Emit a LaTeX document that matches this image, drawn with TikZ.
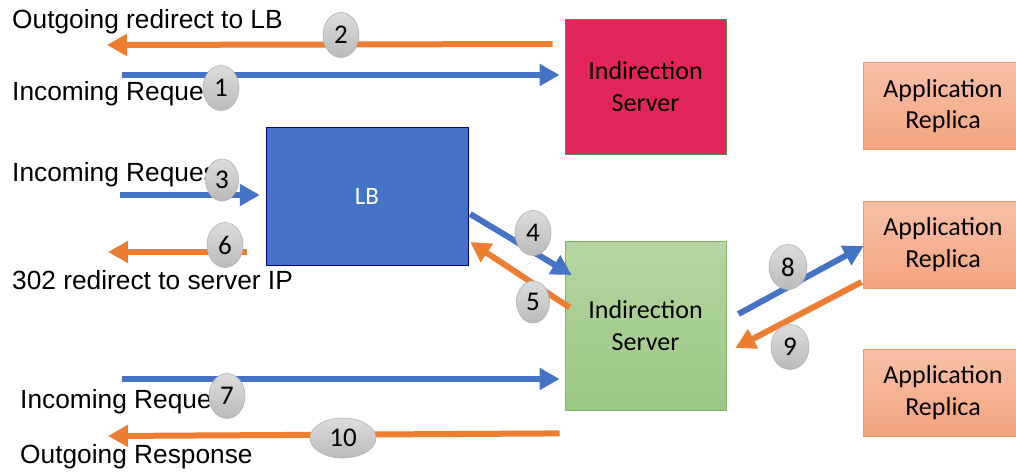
\documentclass[tikz,border=0pt]{standalone}
\usepackage{fontspec}
\setmainfont{Liberation Sans}
\newfontfamily\boxfont{Carlito}
\usetikzlibrary{arrows.meta,calc,positioning,shapes.geometric}

\definecolor{reqblue}{HTML}{4472C4}
\definecolor{resporange}{HTML}{ED7D31}
\definecolor{indred}{HTML}{E3265A}
\definecolor{lbblue}{HTML}{4472C4}
\definecolor{greentop}{HTML}{B5D6A3}
\definecolor{greenbot}{HTML}{9BC883}
\definecolor{greenline}{HTML}{82B466}
\definecolor{reptop}{HTML}{F7C0A8}
\definecolor{repbot}{HTML}{F4A47F}
\definecolor{repline}{HTML}{F09A6A}
\definecolor{numtop}{HTML}{DCDCDC}
\definecolor{numbot}{HTML}{BABABA}

\begin{document}
\begin{tikzpicture}[x=1pt,y=-1pt,>={Triangle[length=20pt,width=21pt]},
	server/.style={draw=black!35!green!40!gray,line width=0.8pt,minimum width=161pt,align=center,inner sep=0pt,font=\boxfont\fontsize{26}{31.5}\selectfont},
	replica/.style={draw=repline,line width=0.8pt,top color=reptop,bottom color=repbot,minimum width=160pt,minimum height=87pt,align=center,inner sep=0pt,font=\boxfont\fontsize{26}{31.5}\selectfont},
	step num/.style={ellipse,draw=gray!60,line width=0.6pt,top color=numtop,bottom color=numbot,minimum width=36pt,minimum height=45pt,inner sep=0pt,font=\boxfont\fontsize{27}{27}\selectfont},
	req/.style={->,draw=reqblue,line width=6pt},
	resp/.style={->,draw=resporange,line width=6pt},
	lbl/.style={anchor=base west,inner sep=0pt,font=\fontsize{26.3}{30}\selectfont}]
	\useasboundingbox (0,0) rectangle (1016,472);

	% boxes
	\node[server,fill=indred,minimum height=135pt] (ind1) at (645.5,86.5) {Indirection\\Server};
	\node[server,draw=greenline,top color=greentop,bottom color=greenbot,minimum height=169pt] (ind2) at (645.5,325.5) {Indirection\\Server};
	\node[draw=blue!50!black,fill=lbblue,minimum width=202pt,minimum height=138pt,text=white,font=\boxfont\fontsize{25}{25}\selectfont] (lb) at (367,196) {LB};
	\node[replica] (rep1) at (943,106) {Application\\Replica};
	\node[replica] (rep2) at (943,244.5) {Application\\Replica};
	\node[replica] (rep3) at (943,392.5) {Application\\Replica};

	% texts on the left
	\node[lbl] (t2) at (12,28) {Outgoing redirect to LB};
	\node[lbl] (t1) at (12,100) {Incoming Reque};
	\node[lbl] (t3) at (12,181) {Incoming Reques};
	\node[lbl] (t6) at (12,289) {302 redirect to server IP};
	\node[lbl] (t7) at (20,408) {Incoming Reque};
	\node[lbl] (t10) at (20,463) {Outgoing Response};

	% free ends
	\coordinate (in1) at (122,75);
	\coordinate (out2) at (107,45);
	\coordinate (in3) at (120,195);
	\coordinate (out6) at (108,252);
	\coordinate (in7) at (122,379);
	\coordinate (out10) at (108,436);

	% arrows
	\draw[req] (in1) -- ($(in1 -| ind1.west)+(-5,0)$);
	\draw[resp] ($(out2 -| ind1.west)+(-12,-1)$) -- (out2);
	\draw[req] (in3) -- ($(in3 -| lb.west)+(-6,0)$);
	\draw[resp] ($(out6 -| lb.west)+(-19,0)$) -- (out6);
	\draw[req] ($(lb.east)+(2,18)$) -- ($(ind2.west)+(7,-50.5)$);
	\draw[resp] ($(ind2.west)+(5,-18)$) -- ($(lb.east)+(2,46)$);
	\draw[req] (in7) -- ($(in7 -| ind2.west)+(-5,0)$);
	\draw[resp] ($(ind2.south west)+(-5,23)$) -- (out10);
	\draw[req] ($(ind2.east)+(12,-11.5)$) -- ($(rep2.west)+(1,1.5)$);
	\draw[resp] ($(rep2.west)+(-1,37.5)$) -- ($(ind2.east)+(9,22.5)$);

	% step numbers
	\node[step num] (n1) at (221,88) {1};
	\node[step num] (n2) at (341,35) {2};
	\node[step num,minimum width=33pt,minimum height=42pt] (n3) at (222,180) {3};
	\node[step num] (n4) at (533,233) {4};
	\node[step num,minimum width=33pt,minimum height=42pt] (n5) at (533,302) {5};
	\node[step num] (n6) at (225,245) {6};
	\node[step num] (n7) at (227,396) {7};
	\node[step num,minimum width=38pt] (n8) at (788,267) {8};
	\node[step num,minimum width=38pt] (n9) at (790,347) {9};
	\node[step num,minimum width=66pt,minimum height=40pt] (n10) at (343,438) {10};
\end{tikzpicture}
\end{document}
